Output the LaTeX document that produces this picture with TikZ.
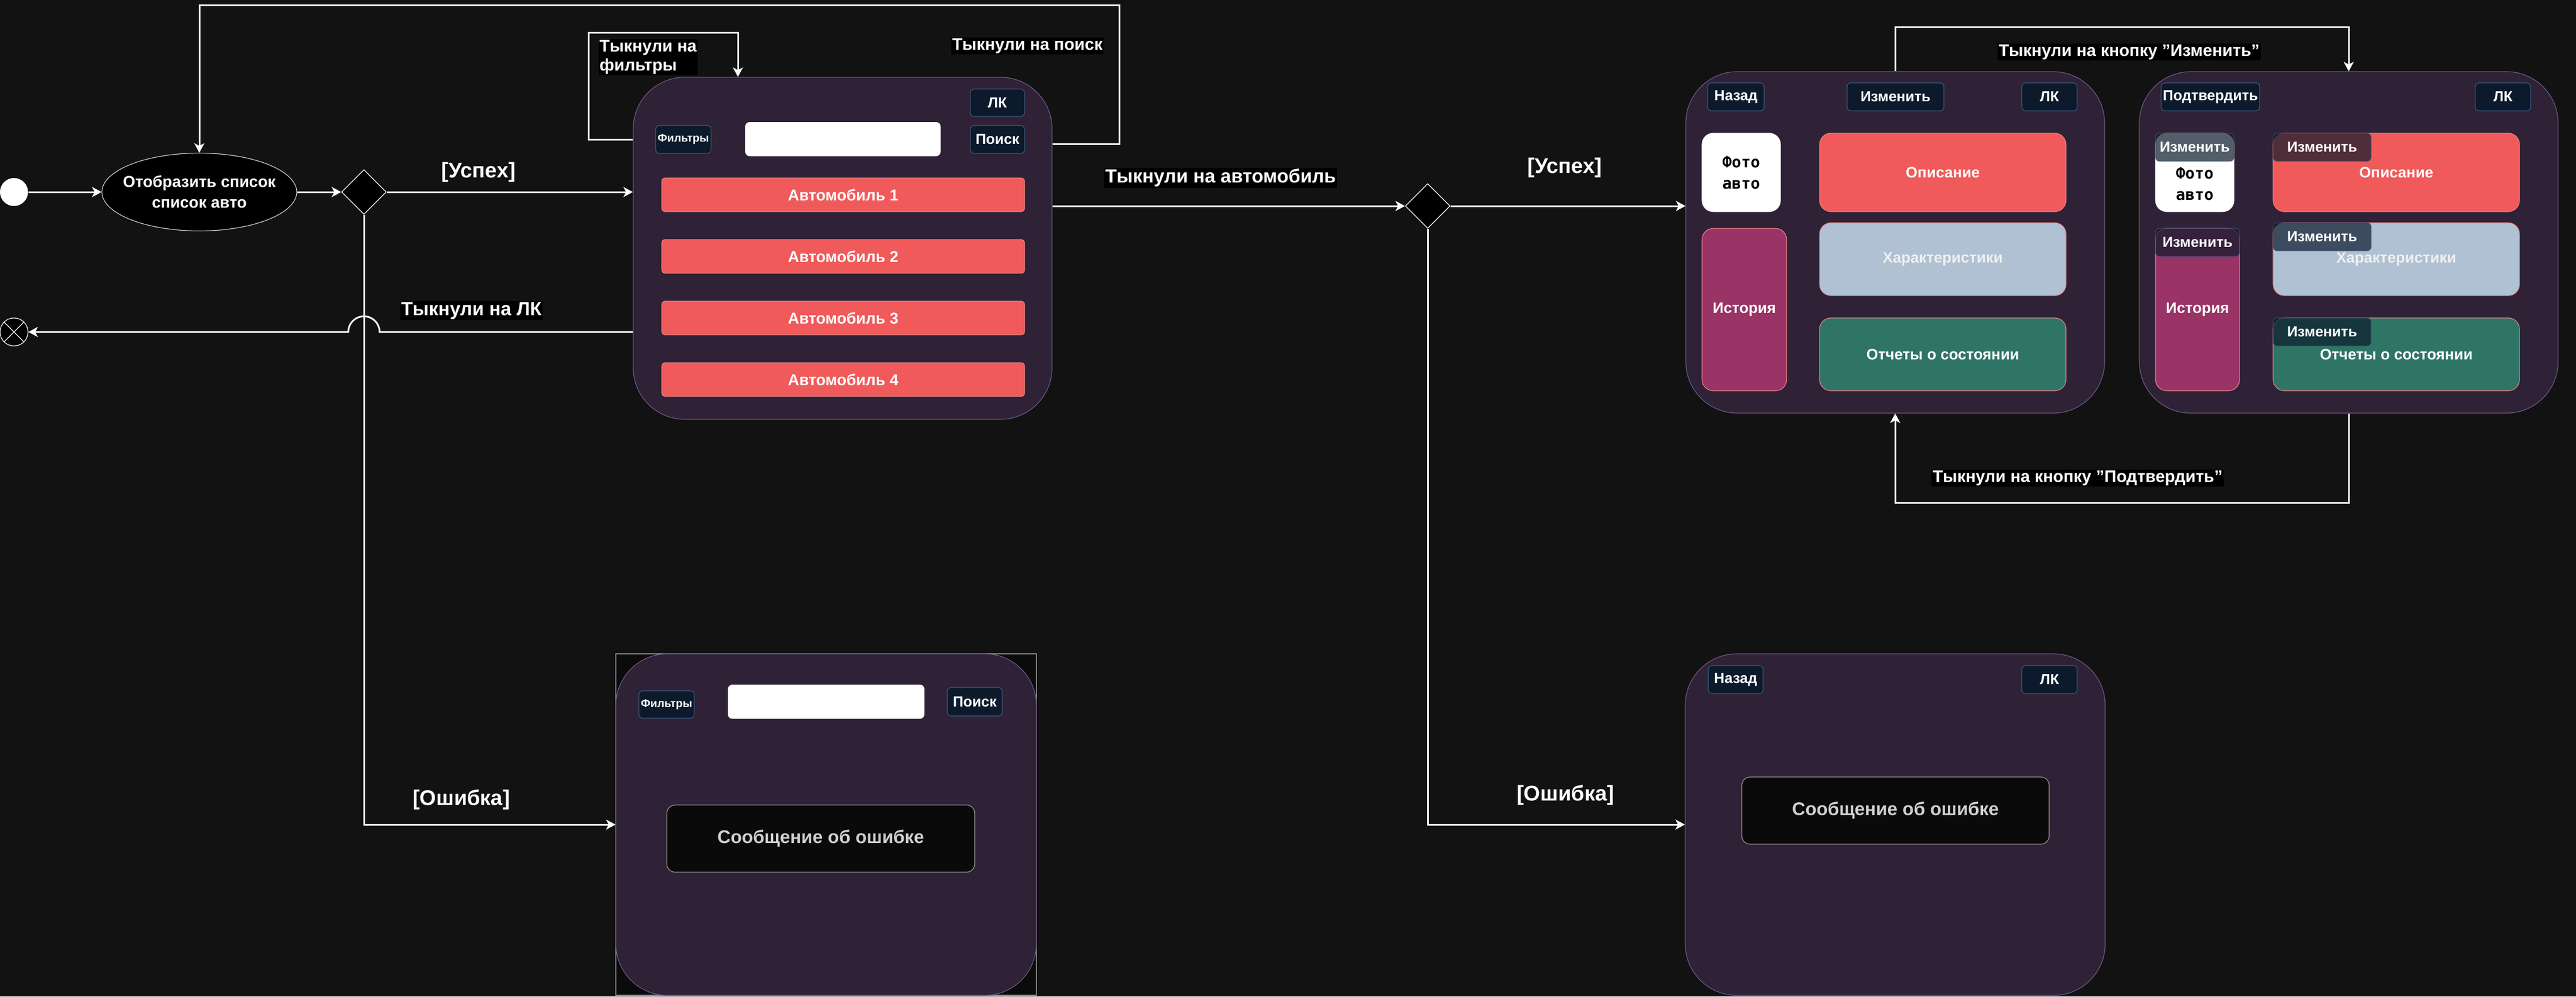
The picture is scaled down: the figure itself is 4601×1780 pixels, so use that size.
\documentclass[tikz,border=0pt]{standalone}
\usepackage{fontspec}
\setmainfont{Liberation Sans}
\newfontfamily\photofont{DejaVu Sans Mono}
\usepackage{tikz}
\usetikzlibrary{arrows.meta, shapes.geometric, positioning}

\definecolor{bgdark}{HTML}{121212}
\definecolor{phonefill}{HTML}{2F2136}
\definecolor{phoneedge}{HTML}{6F5B86}
\definecolor{btnfill}{HTML}{0C1A2C}
\definecolor{btnedge}{HTML}{3D5A80}
\definecolor{carred}{HTML}{F05A5A}
\definecolor{tileedge}{HTML}{E88585}
\definecolor{specfill}{HTML}{B0C1D3}
\definecolor{histfill}{HTML}{9A3366}
\definecolor{repfill}{HTML}{2E7566}
\definecolor{errfill}{HTML}{0A0A0A}
\definecolor{erredge}{HTML}{9A9A9A}
\definecolor{errtext}{HTML}{D0D0D0}
\definecolor{framefill}{HTML}{0B0B0B}
\definecolor{frameedge}{HTML}{8A8A8A}

\begin{document}
\begin{tikzpicture}[x=0.25pt, y=-0.25pt,
    flow/.style={draw=white, line width=0.75pt, -{Stealth[length=4.25pt, width=4.5pt, inset=1.2pt]}},
    phone/.style={draw=phoneedge, fill=phonefill, line width=0.3pt, rounded corners=23pt, inner sep=0pt},
    btn/.style={draw=btnedge, fill=btnfill, line width=0.3pt, rounded corners=1.75pt, text=white, inner sep=0pt, minimum height=12.5pt, font=\bfseries\fontsize{6.5}{7.8}\selectfont},
    editbtn/.style={btn, fill opacity=0.7, draw opacity=0.7, text opacity=1},
    field/.style={fill=white, rounded corners=2pt, inner sep=0pt, minimum width=87.25pt, minimum height=15.25pt},
    car/.style={fill=carred, draw=tileedge, line width=0.3pt, rounded corners=1.5pt, inner sep=0pt, minimum width=162pt, minimum height=15pt, text=white, font=\bfseries\fontsize{7}{8.4}\selectfont},
    tile/.style={draw=tileedge, line width=0.3pt, rounded corners=5pt, text=white, inner sep=0pt, align=center, font=\bfseries\fontsize{6.75}{8.1}\selectfont},
    photo/.style={tile, fill=white, draw=white, text=black, minimum width=35pt, minimum height=35pt, font=\photofont\bfseries\fontsize{7}{9.5}\selectfont},
    errbox/.style={fill=errfill, draw=erredge, line width=0.3pt, rounded corners=3.75pt, minimum height=30pt, text=errtext, font=\bfseries\fontsize{8.2}{9.8}\selectfont},
    lbl/.style={text=white, fill=black, inner sep=0.5pt, font=\bfseries\fontsize{8.5}{10.2}\selectfont},
    looplbl/.style={text=white, fill=black, inner sep=0.5pt, font=\bfseries\fontsize{7.5}{8.5}\selectfont},
    guard/.style={text=white, font=\bfseries\fontsize{9.5}{11.4}\selectfont},
  ]
        % Background
        \fill[bgdark] (0,0) rectangle (4601,1780);
        \useasboundingbox (0,0) rectangle (4601,1780);

        % Start and exit
        \node[circle, fill=white, minimum size=12.5pt, inner sep=0pt] (start) at (25,343) {};
        \node[circle, draw=white, fill=black, line width=0.3pt, minimum size=12.5pt, inner sep=0pt] (stop) at (25,593) {};
        \draw[white, line width=0.3pt] (stop.north west) -- (stop.south east) (stop.north east) -- (stop.south west);

        % Show the list
        \node[ellipse, draw=errtext, fill=black, line width=0.3pt, minimum width=87pt, minimum height=34.75pt, inner sep=0pt] (show) at (356,343) {};
        \node[text=white, align=center, font=\bfseries\fontsize{7.1}{9.25}\selectfont] (showtext) at (show.center) {Отобразить список\\список авто};
        \node[diamond, draw=white, fill=black, line width=0.3pt, minimum width=20pt, minimum height=20pt, inner sep=0pt] (dec1) at (650,343) {};

        % Car list screen
        \node[phone, minimum width=187pt, minimum height=152.75pt] (list) at (1505,443.5) {};
        \node[btn, minimum width=24.25pt, minimum height=12.25pt] (lk1) at (1781.5,183.5) {ЛК};
        \node[btn, minimum width=24.75pt, font=\bfseries\fontsize{5}{6}\selectfont] (filt1) at (1220.5,249) {Фильтры};
        \node[field] (field1) at (1505.5,248.5) {};
        \node[btn, minimum width=24.25pt] (find1) at (1781.5,249) {Поиск};
        \foreach \i in {1,...,4}
            \node[car] (car\i) at (1506,{238+110*\i}) {Автомобиль \i};

        % Car list error screen
        \node[draw=frameedge, fill=framefill, line width=0.3pt, inner sep=0pt, minimum width=187.75pt, minimum height=152.5pt] (errframe) at (1475.5,1473) {};
        \node[phone, minimum width=187.75pt, minimum height=152.5pt] (errlist) at (1475.5,1473) {};
        \node[btn, minimum width=24.75pt, minimum height=12.25pt, font=\bfseries\fontsize{5}{6}\selectfont] (filt2) at (1190.5,1258.5) {Фильтры};
        \node[field, minimum width=87.75pt] (field2) at (1475.5,1253.5) {};
        \node[btn, minimum width=24.5pt, minimum height=12.75pt] (find2) at (1741,1253.5) {Поиск};
        \node[errbox, minimum width=137.5pt] (msg1) at (1466,1498) {Сообщение об ошибке};

        % Second decision
        \node[diamond, draw=white, fill=black, line width=0.3pt, minimum width=20pt, minimum height=20pt, inner sep=0pt] (dec2) at (2550,368) {};

        % Car card screen
        \node[phone, minimum width=187pt, minimum height=152.5pt] (view) at (3385,433) {};
        \node[btn, minimum width=25.25pt] (back1) at (3100.5,173) {Назад};
        \node[btn, minimum width=43.25pt] (change) at (3385.5,173) {Изменить};
        \node[btn, minimum width=24.75pt] (lk2) at (3660.5,173) {ЛК};
        \node[photo] (photo1) at (3110,308) {Фото\\авто};
        \node[tile, fill=carred, minimum width=110pt, minimum height=35pt] (desc1) at (3470,308) {Описание};
        \node[tile, fill=specfill, text=white!94!black, minimum width=110pt, minimum height=32.5pt] (spec1) at (3470,463) {Характеристики};
        \node[tile, fill=histfill, minimum width=37.75pt, minimum height=72.5pt] (hist1) at (3115.5,553) {История};
        \node[tile, fill=repfill, minimum width=110pt, minimum height=32.5pt] (rep1) at (3470,633) {Отчеты о состоянии};

        % Car card edit screen
        \node[phone, minimum width=187pt, minimum height=152.5pt] (edit) at (4195,433) {};
        \node[btn, minimum width=44pt] (confirm) at (3948,173) {Подтвердить};
        \node[btn, minimum width=24.75pt] (lk3) at (4470.5,173) {ЛК};
        \node[photo] (photo2) at (3920,308) {};
        \node[text=black, align=center, font=\photofont\bfseries\fontsize{7}{9.5}\selectfont] (phototext) at (3920,328) {Фото\\авто};
        \node[tile, fill=carred, minimum width=110pt, minimum height=35pt] (desc2) at (4280,308) {Описание};
        \node[tile, fill=specfill, text=white!94!black, minimum width=110pt, minimum height=32.5pt] (spec2) at (4280,463) {Характеристики};
        \node[tile, fill=histfill, minimum width=37.5pt, minimum height=72.5pt] (hist2) at (3925,553) {История};
        \node[tile, fill=repfill, minimum width=110pt, minimum height=32.5pt] (rep2) at (4280,633) {Отчеты о состоянии};
        % Edit buttons
        \node[editbtn, anchor=north, minimum width=35pt] (editphoto) at (photo2.north) {Изменить};
        \node[editbtn, anchor=north, minimum width=37.5pt] (edithist) at (hist2.north) {Изменить};
        \foreach \t in {desc2, spec2, rep2}
            \node[editbtn, anchor=north west, minimum width=43.75pt] (edit-\t) at (\t.north west) {Изменить};

        % Car card error screen
        \node[phone, minimum width=187.5pt, minimum height=152.5pt] (errview) at (3385,1473) {};
        \node[btn, minimum width=24.5pt] (back2) at (3100,1214) {Назад};
        \node[btn, minimum width=24.75pt] (lk4) at (3660.5,1214) {ЛК};
        \node[errbox, minimum width=137.25pt] (msg2) at (3385.5,1448) {Сообщение об ошибке};

        % Loop corners
        \coordinate (fcorner) at (1051,58);
        \coordinate (ftop) at (1318,58);
        \coordinate (sright) at (1999,257);
        \coordinate (stopline) at (1999,9);
        \coordinate (editloop) at (3790,48);
        \coordinate (confloop) at (3790,898);

        % Main flow
        \draw[flow] (start) -- (show);
        \draw[flow] (show) -- (dec1);
        \draw[flow] (dec1) -- (dec1 -| list.west);
        \draw[flow] (dec1.south) |- (errframe.west);
        % Back to profile, hopping over the error line
        \draw[flow] (list.west |- stop) -- (678,593) arc[start angle=0, end angle=-180, radius=28] -- (stop);
        % Filters and search loops
        \draw[flow] (list.west |- filt1) -| (fcorner) -- (ftop) -- (ftop |- list.north);
        \draw[flow] (list.east |- sright) -- (sright) -- (stopline) -| (show.north);
        % Car chosen
        \draw[flow] (list.east |- dec2) -- (dec2);
        \draw[flow] (dec2) -- (dec2 -| view.west);
        \draw[flow] (dec2.south) |- (errview.west);
        % Edit and confirm loops
        \draw[flow] (view.north) |- (editloop) -| (edit.north);
        \draw[flow] (edit.south) |- (confloop) -| (view.south);

        % Labels
        \node[guard] (ok1) at (855,308) {[Успех]};
        \node[lbl] (tolk) at (842,555) {Тыкнули на ЛК};
        \node[guard] (fail1) at (824,1428) {[Ошибка]};
        \node[looplbl, anchor=west, align=left] (tofilt) at (1068,102) {Тыкнули на\\фильтры};
        \node[looplbl] (tofind) at (1835,82) {Тыкнули на поиск};
        \node[lbl] (tocar) at (2180,318) {Тыкнули на автомобиль};
        \node[guard] (ok2) at (2795,300) {[Успех]};
        \node[guard] (fail2) at (2796,1420) {[Ошибка]};
        \node[looplbl] (tochange) at (3803,93) {Тыкнули на кнопку "Изменить"};
        \node[looplbl] (toconfirm) at (3711,854) {Тыкнули на кнопку "Подтвердить"};
    \end{tikzpicture}
\end{document}
